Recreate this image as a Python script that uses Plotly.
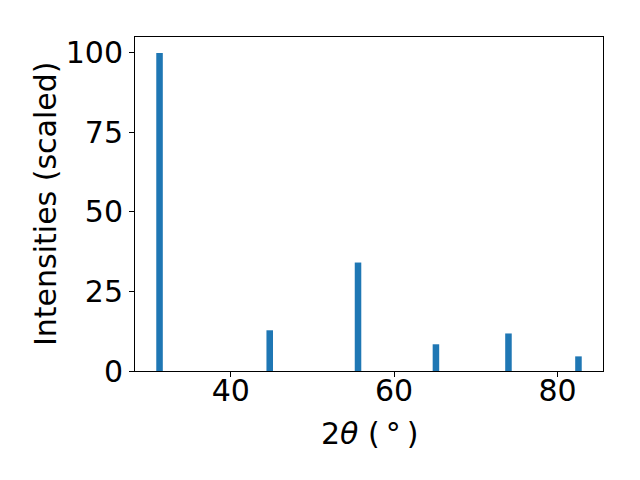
import plotly.graph_objects as go

two_theta = [31.28, 44.77, 55.58, 65.12, 74.0, 82.57]
intensities = [100.0, 12.8, 34.1, 8.4, 11.8, 4.6]
bar_width = 0.8

xmin = min(two_theta) - bar_width / 2
xmax = max(two_theta) + bar_width / 2
pad = 0.05 * (xmax - xmin)

fig = go.Figure(
    go.Bar(
        x=two_theta,
        y=intensities,
        width=bar_width,
        marker=dict(color="#1f77b4", line=dict(width=0)),
    )
)

font = dict(family="DejaVu Sans", size=30, color="black")

fig.update_layout(
    width=632,
    height=472,
    margin=dict(l=127, r=37, t=29, b=109),
    paper_bgcolor="white",
    plot_bgcolor="white",
    showlegend=False,
    font=font,
    annotations=[
        dict(
            text="2<i>θ</i> (\u2009°\u2009)",
            xref="paper", yref="paper",
            x=0.5, y=0,
            xanchor="center", yanchor="middle",
            yshift=-62,
            showarrow=False,
            font=font,
        ),
        dict(
            text="Intensities (scaled)",
            xref="paper", yref="paper",
            x=0, y=0.5,
            xanchor="center", yanchor="middle",
            xshift=-90,
            textangle=-90,
            showarrow=False,
            font=font,
        ),
    ],
)
fig.update_xaxes(
    range=[xmin - pad, xmax + pad],
    tickvals=[40, 60, 80],
    ticks="outside",
    ticklen=5,
    tickwidth=1,
    tickcolor="black",
    ticklabelstandoff=-12,
    showline=True,
    linecolor="black",
    linewidth=1,
    mirror=True,
    showgrid=False,
    zeroline=False,
    tickfont=font,
)
fig.update_yaxes(
    range=[0, 105],
    tickvals=[0, 25, 50, 75, 100],
    ticks="outside",
    ticklen=5,
    tickwidth=1,
    tickcolor="black",
    showline=True,
    linecolor="black",
    linewidth=1,
    mirror=True,
    showgrid=False,
    zeroline=False,
    tickfont=font,
)

fig.write_html("out.html")
